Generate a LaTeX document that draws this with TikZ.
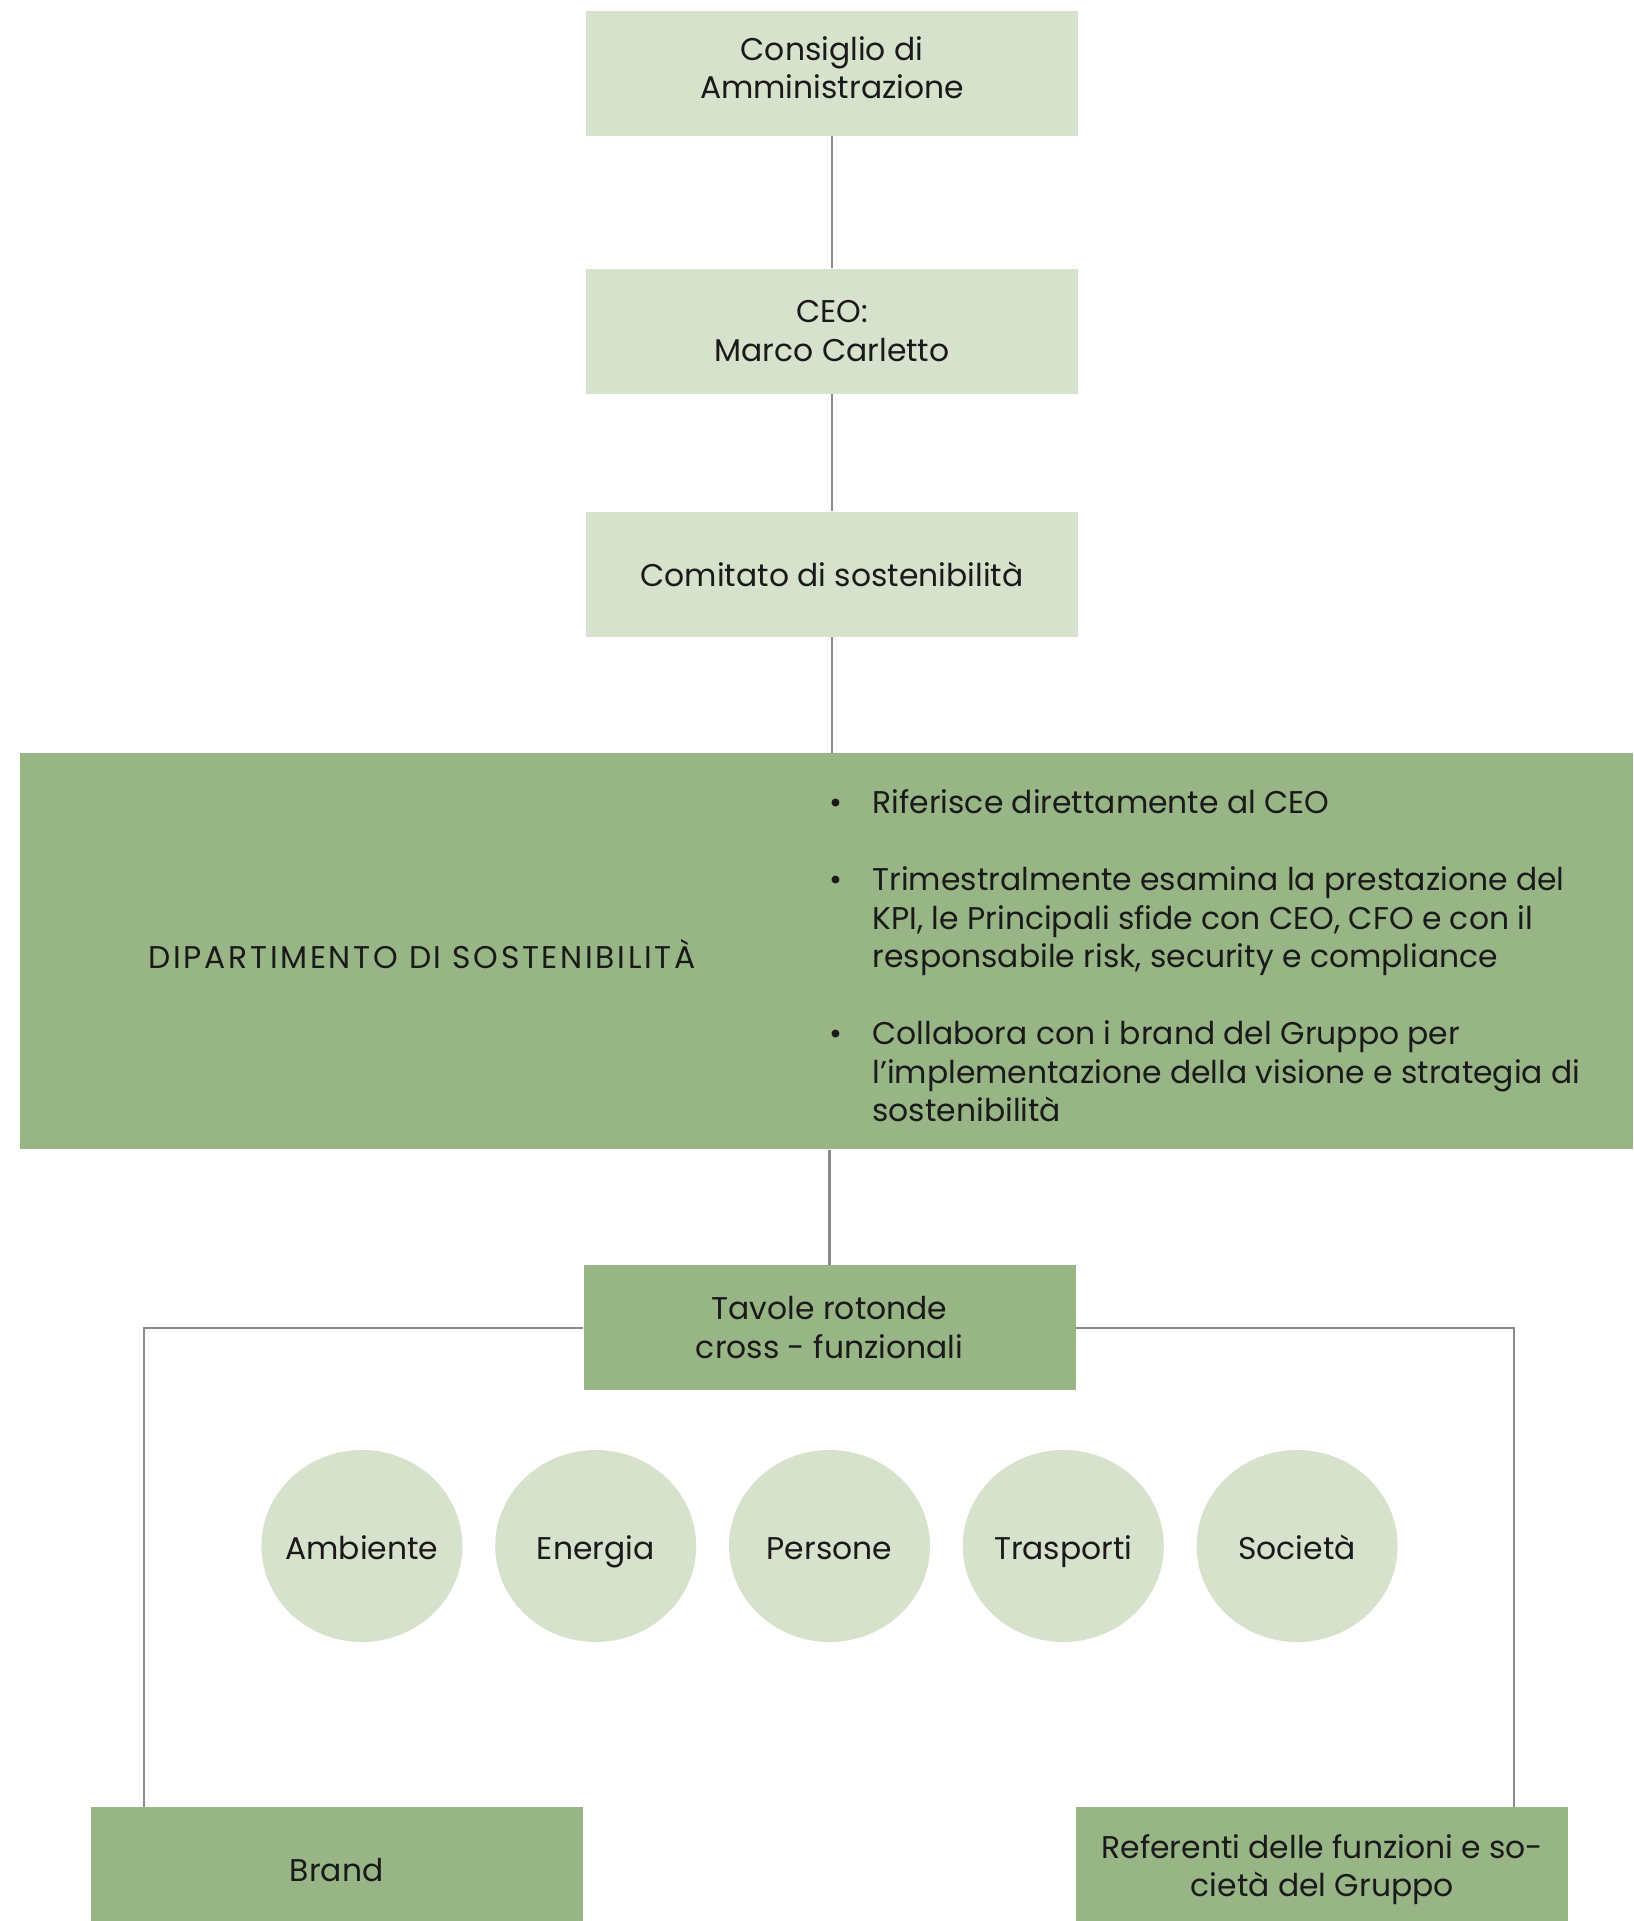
\documentclass[tikz,border=0pt]{standalone}
\usepackage{fontspec}
\setmainfont{Poppins}
\usepackage{xcolor}
\usepackage{tikz}
\usetikzlibrary{positioning, shapes.geometric}

\definecolor{palegreen}{HTML}{D7E2CD}
\definecolor{sagegreen}{HTML}{98B585}
\definecolor{linkgray}{HTML}{8A8A8A}
\definecolor{inkblack}{HTML}{1A1A1A}

\begin{document}
\begin{tikzpicture}[
  lightbox/.style={fill=palegreen, align=center, text=inkblack, font=\fontsize{15.7}{19.25}\selectfont, inner sep=0pt, minimum width=246pt, minimum height=62.5pt},
  darkbox/.style={lightbox, fill=sagegreen},
  topic/.style={ellipse, fill=palegreen, text=inkblack, font=\fontsize{15.7}{19.25}\selectfont, inner xsep=-20pt, inner ysep=0pt, text height=14pt, text depth=1pt, minimum width=100.5pt, minimum height=96pt},
  txt/.style={text=inkblack, font=\fontsize{15.7}{19.25}\selectfont, inner sep=0pt},
  link/.style={draw=linkgray, line width=1.1pt}
]
  \useasboundingbox (0,0) rectangle (816.5pt,-960.5pt);
  \clip (0,0) rectangle (816.5pt,-960.5pt);
  \node[lightbox, text depth=6pt] (cda) at (416pt,-36.75pt) {Consiglio di\\ Amministrazione};
  \node[lightbox, below=66pt of cda] (ceo) {CEO:\\ Marco Carletto};
  \node[lightbox, below=58.5pt of ceo] (comitato) {Comitato di sostenibilità};
  \node[darkbox, below=58pt of comitato, xshift=-3pt, minimum width=806.5pt, minimum height=198pt] (dip) {};
  \node[txt] (diptitle) at ([xshift=201.5pt, yshift=-1.2pt]dip.west) {\addfontfeature{LetterSpace=8.5}DIPARTIMENTO DI SOSTENIBILITÀ};
  \node[txt, align=left, anchor=west] (dipbullets) at ([xshift=426.5pt, yshift=-2.3pt]dip.west) {%
    \llap{\textbullet\hspace{15pt}}Riferisce direttamente al CEO\\[19.25pt]
    \llap{\textbullet\hspace{15pt}}Trimestralmente esamina la prestazione del\\
    KPI, le Principali sfide con CEO, CFO e con il\\
    responsabile risk, security e compliance\\[19.25pt]
    \llap{\textbullet\hspace{15pt}}Collabora con i brand del Gruppo per\\
    l’implementazione della visione e strategia di\\
    sostenibilità};
  \node[darkbox, below=57.5pt of dip, xshift=1.75pt] (tavole) {Tavole rotonde\\ cross - funzionali};
  \node[topic, below=29.5pt of tavole] (persone) {Persone};
  \node[topic, left=16pt of persone] (energia) {Energia};
  \node[topic, left=16pt of energia] (ambiente) {Ambiente};
  \node[topic, right=16pt of persone] (trasporti) {Trasporti};
  \node[topic, right=16pt of trasporti] (societa) {Società};
  \node[darkbox, below=208pt of tavole.south west, anchor=north east] (brand) {Brand};
  \node[darkbox, below=208pt of tavole.south east, anchor=north west] (referenti) {Referenti delle funzioni e so-\\ cietà del Gruppo};
  \draw[link] (cda) -- (ceo);
  \draw[link] (ceo) -- (comitato);
  \draw[link] (comitato.south) -- (comitato.south |- dip.north);
  \draw[link] (tavole.north |- dip.south) -- (tavole.north);
  \draw[link] (tavole.west) -| ([xshift=27pt]brand.north west);
  \draw[link] (tavole.east) -| ([xshift=-27.5pt]referenti.north east);
\end{tikzpicture}
\end{document}
